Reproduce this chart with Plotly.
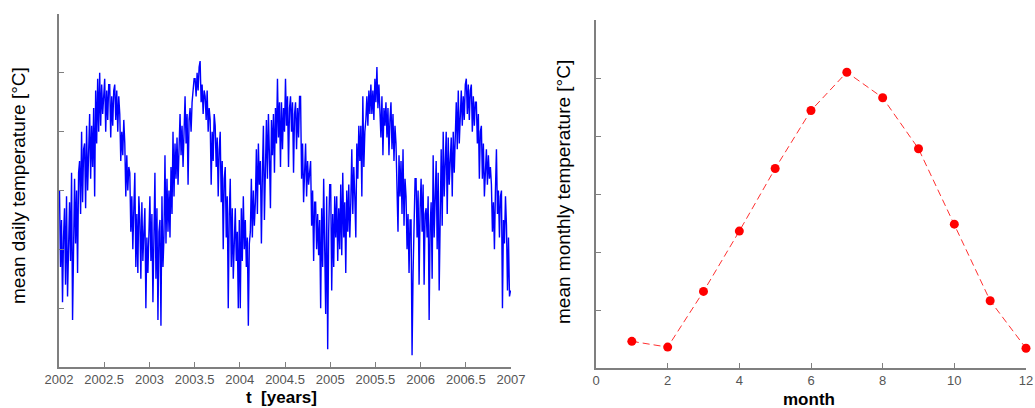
import plotly.graph_objects as go

# ---------------- data ----------------
years = [2002, 2003, 2004, 2005, 2006]

temp_2002 = [10, -3, 5, -9, 2, 7, -6, 9, -8, 3, 8, -2, 13, -12, 4, 12, 1, 10, -4, 13,
             15, 6, 20, 8, 17, 18, 7, 21, 10, 19, 23, 12, 21, 14, 24, 9, 27, 18, 29, 20,
             30, 21, 28, 23, 27, 29, 20, 27, 22, 28, 28, 19, 26, 21, 27, 28, 22, 27, 20, 26,
             23, 15, 20, 16, 22, 18, 9, 16, 10, 14, 13, 3, 9, 0, 7, 13, -3, 6, -4, 9,
             5, -5, 8, -2, 3, 7, -10, 2, -4, 5]
temp_2003 = [9, -2, 6, -9, 4, 13, -5, 7, -12, 3, 5, -13, 9, -3, 2, 16, 1, 12, 3, 10,
             2, 14, 6, 20, 9, 18, 12, 19, 11, 16, 23, 16, 21, 14, 22, 26, 18, 23, 11, 22,
             24, 20, 25, 27, 29, 29, 26, 30, 27, 31, 32, 25, 28, 23, 27, 26, 22, 27, 20, 24,
             22, 11, 20, 15, 23, 21, 14, 19, 9, 17, 20, 8, 15, 0, 12, 14, 2, 9, -10, 6,
             12, -3, 7, -5, 4, 7, -2, 3, -10, 5]
temp_2004 = [-10, 7, -2, 9, 0, 5, -3, 2, -13, 1, 3, 12, 2, 10, 4, 8, 17, 6, 18, 11,
             15, 1, 13, 21, 5, 14, 22, 12, 23, 16, 7, 22, 16, 23, 13, 24, 18, 29, 19, 25,
             14, 25, 17, 24, 20, 29, 21, 26, 14, 24, 26, 20, 25, 13, 23, 25, 17, 24, 19, 26,
             26, 12, 18, 8, 16, 18, 9, 15, 11, 14, 15, 4, 10, -2, 8, 8, 0, 6, -1, 5,
             -10, 7, -3, 12, 2, -11, 9, -17, 3, 11]
temp_2005 = [11, -7, 6, -3, 9, 2, 9, -2, 7, 0, 11, -1, 13, 2, 8, -4, 10, 3, 11, 2,
             8, 17, 6, 14, 9, 2, 18, 12, 21, 15, 21, 9, 26, 14, 20, 22, 26, 21, 27, 23,
             28, 23, 27, 22, 29, 25, 31, 24, 28, 23, 19, 26, 16, 24, 21, 25, 19, 24, 16, 22,
             25, 17, 23, 15, 21, 18, 10, 3, 16, 9, 15, 6, 17, 4, 12, 9, 0, 6, -4, 5,
             5, -18, -4, 3, 12, 12, 2, 10, -6, 7]
temp_2006 = [12, 3, 11, -6, 6, 7, 2, 9, -12, 4, 8, -5, 16, 2, 12, 15, 0, 13, -7, 11,
             17, 4, 20, 9, 15, 20, 6, 19, 11, 17, 19, 9, 20, 13, 18, 25, 17, 27, 18, 24,
             27, 21, 26, 22, 28, 29, 23, 28, 22, 27, 28, 20, 26, 21, 25, 25, 18, 23, 12, 20,
             21, 12, 18, 9, 15, 17, 11, 16, 12, 14, 11, 3, 8, 0, 10, 17, 6, 10, 2, 9,
             10, -10, 5, 1, 9, 4, -7, 2, -8, -7]
daily_by_year = [temp_2002, temp_2003, temp_2004, temp_2005, temp_2006]

months = [1, 2, 3, 4, 5, 6, 7, 8, 9, 10, 11, 12]
monthly_temp = [2.3, 1.8, 6.6, 11.8, 17.2, 22.2, 25.5, 23.3, 18.9, 12.4, 5.8, 1.7]

year_ticks = [2002, 2002.5, 2003, 2003.5, 2004, 2004.5, 2005, 2005.5, 2006, 2006.5, 2007]
year_tick_text = ["2002", "2002.5", "2003", "2003.5", "2004", "2004.5",
                  "2005", "2005.5", "2006", "2006.5", "2007"]

# ---------------- build ----------------
t_vals, d_vals = [], []
for y0, arr in zip(years, daily_by_year):
    n = len(arr)
    for k, v in enumerate(arr):
        t_vals.append(y0 + (k + 0.5) / n)
        d_vals.append(v)

W, H = 1035, 408
def px_x(a, b):
    return [a / W, b / W]
def px_y(top, bottom):
    return [(H - bottom) / H, (H - top) / H]

AX = "#7f7f7f"
TICKFONT = dict(family="Liberation Sans Narrow, Arial Narrow, Liberation Sans, sans-serif",
                size=13, color="#555555")

fig = go.Figure()
fig.add_trace(go.Scatter(x=t_vals, y=d_vals, mode="lines",
                         line=dict(color="#0000ff", width=1.4),
                         xaxis="x", yaxis="y", showlegend=False, hoverinfo="skip"))
fig.add_trace(go.Scatter(x=months, y=monthly_temp, mode="lines+markers",
                         line=dict(color="#ff3030", width=1, dash="7px,4px"),
                         marker=dict(color="#ff0000", size=9),
                         cliponaxis=False,
                         xaxis="x2", yaxis="y2", showlegend=False))

common = dict(showgrid=False, zeroline=False, showline=True, linecolor=AX, linewidth=1.5,
              ticks="inside", ticklen=5, tickcolor=AX, tickwidth=1, mirror=False,
              automargin=False)

fig.update_layout(
    width=W, height=H, margin=dict(l=0, r=0, t=0, b=0, autoexpand=False),
    paper_bgcolor="white", plot_bgcolor="white",
    font=dict(family="Liberation Sans, Arial, sans-serif", color="black"),
    xaxis=dict(domain=px_x(59, 511), range=[2002, 2007], anchor="y",
               tickvals=year_ticks, ticktext=year_tick_text, tickfont=TICKFONT, **common),
    yaxis=dict(domain=px_y(14, 367), range=[-20, 40], dtick=10, tick0=-20, anchor="x",
               showticklabels=False, **common),
    xaxis2=dict(domain=px_x(596, 1026), range=[0, 12], dtick=2, tick0=0, anchor="y2",
                tickfont=TICKFONT, **common),
    yaxis2=dict(domain=px_y(20, 368), range=[0, 30], dtick=5, tick0=0, anchor="x2",
                showticklabels=False, **common),
    annotations=[
        dict(text="mean daily temperature [°C]", x=18 / W, y=(H - 186) / H,
             xref="paper", yref="paper", textangle=-90, showarrow=False,
             font=dict(size=19, color="black"), xanchor="center", yanchor="middle"),
        dict(text="<b>t  [years]</b>", x=281 / W, y=(H - 397) / H,
             xref="paper", yref="paper", showarrow=False,
             font=dict(size=17, color="black"), xanchor="center", yanchor="middle"),
        dict(text="mean monthly temperature [°C]", x=563 / W, y=(H - 192) / H,
             xref="paper", yref="paper", textangle=-90, showarrow=False,
             font=dict(size=19, color="black"), xanchor="center", yanchor="middle"),
        dict(text="<b>month</b>", x=809 / W, y=(H - 399) / H,
             xref="paper", yref="paper", showarrow=False,
             font=dict(size=17, color="black"), xanchor="center", yanchor="middle"),
    ],
)

fig.write_html("out.html")
